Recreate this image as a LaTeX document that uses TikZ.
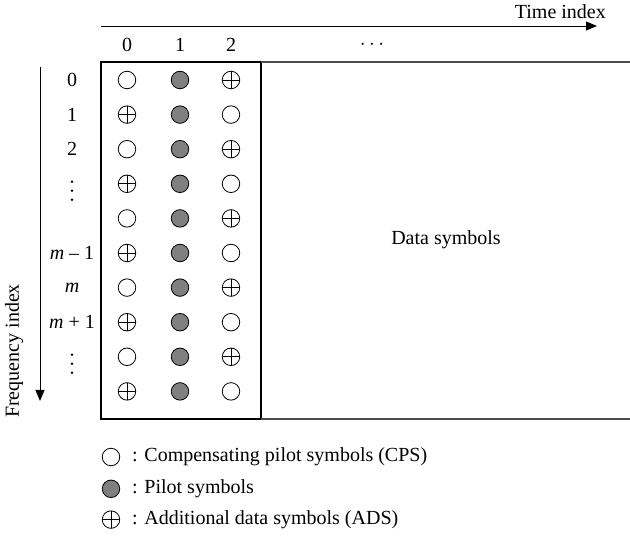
\documentclass[tikz,border=0pt]{standalone}
\usepackage{fontspec}
\setmainfont{Liberation Serif}
\usetikzlibrary{arrows.meta,positioning}

\tikzset{
  sym/.style={circle, draw, line width=0.8pt, minimum size=17.5pt, inner sep=0pt},
  cps/.style={sym, fill=white},
  pil/.style={sym, fill=gray!100!black},
  ads/.style={sym, path picture={
      \draw[line width=0.8pt] (path picture bounding box.north) -- (path picture bounding box.south)
        (path picture bounding box.west) -- (path picture bounding box.east);}},
  lbl/.style={inner sep=2pt},
  vdotsmark/.style={minimum width=4pt, minimum height=22pt, inner sep=0pt, path picture={
      \foreach \k in {-9,0,9}
        \fill ([yshift=\k pt]path picture bounding box.center) circle (1.3pt);}},
  axis/.style={line width=0.9pt, -{Triangle[length=11pt,width=9pt]}},
}

\begin{document}
\begin{tikzpicture}[x=1pt, y=-1pt, font=\fontsize{20}{24}\selectfont]
\useasboundingbox (0,0) rectangle (630,537);

% axes
\coordinate (tStart) at (101,26);
\coordinate (tEnd) at (597,26);
\coordinate (fStart) at (40,67);
\coordinate (fEnd) at (40,401);
\draw[axis] (tStart) -- (tEnd);
\draw[axis] (fStart) -- (fEnd);
\node[lbl, anchor=east] (tlabel) at (608,12) {Time index};
\node[lbl, rotate=90] (flabel) at (14,351) {Frequency index};

% column indices
\node[lbl] (c0) at (127,45) {0};
\node[lbl] (c1) at (180,45) {1};
\node[lbl] (c2) at (231,45) {2};
\node[lbl] (cdots) at (372,45) {$\cdots$};

% frame and data area
\coordinate (gridNW) at (101,62);
\coordinate (gridSE) at (261,419);
\coordinate (gridNE) at (261,62);
\coordinate (gridSW) at (101,419);
\coordinate (dataNE) at (631,62);
\coordinate (dataSE) at (631,419);
\draw[line width=1.3pt] (gridNW) rectangle (gridSE);
\draw[line width=1.1pt, black!70] (gridNE) -- (dataNE) (gridSE) -- (dataSE);
\node[lbl] (data) at (446,240) {Data symbols};

% row indices
\foreach \r/\lab in {0/0, 1/1, 2/2, 5/\textit{m} – 1, 6/\textit{m}, 7/\textit{m} + 1}
  \node[lbl] (r\r) at (72,80+34.6*\r) {\lab};
\foreach \r in {3,8}
  \node[vdotsmark] (r\r) at (72,87+34.6*\r) {};

% symbols
\foreach \r/\a/\b in {0/cps/ads, 1/ads/cps, 2/cps/ads, 3/ads/cps, 4/cps/ads,
                      5/ads/cps, 6/cps/ads, 7/ads/cps, 8/cps/ads, 9/ads/cps} {
  \node[\a] (s\r-0) at (127,80+34.6*\r) {};
  \node[pil] (s\r-1) at (180,80+34.6*\r) {};
  \node[\b] (s\r-2) at (231,80+34.6*\r) {};
}

% legend
\node[cps] (kcps) at (111,457) {};
\node[pil, below=13.5pt of kcps] (kpil) {};
\node[ads, below=12.5pt of kpil] (kads) {};
\node[lbl, right=19pt of kcps.center, anchor=west] (tcps) {: Compensating pilot symbols (CPS)};
\node[lbl, right=19pt of kpil.center, anchor=west] (tpil) {: Pilot symbols};
\node[lbl, right=19pt of kads.center, anchor=west] (tads) {: Additional data symbols (ADS)};
\end{tikzpicture}
\end{document}
